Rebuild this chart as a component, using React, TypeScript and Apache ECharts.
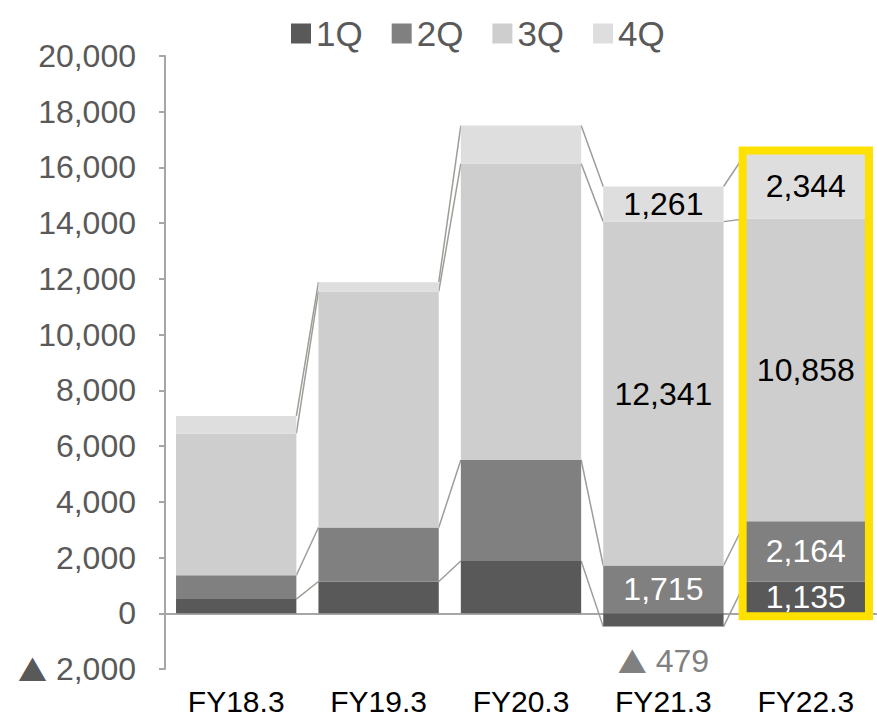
import React, { useEffect, useRef } from "react";
import * as echarts from "echarts";

const categories = ["FY18.3", "FY19.3", "FY20.3", "FY21.3", "FY22.3"];
const seriesNames = ["1Q", "2Q", "3Q", "4Q"];
const q1 = [510, 1141, 1878, -479, 1135];
const q2 = [855, 1936, 3623, 1715, 2164];
const q3 = [5088, 8474, 10638, 12341, 10858];
const q4 = [631, 331, 1365, 1261, 2344];
const quarters = [q1, q2, q3, q4];
const colors = ["#595959", "#808080", "#CECECE", "#DEDEDE"];
const labelColors = ["#FFFFFF", "#FFFFFF", "#000000", "#000000"];
const labeledIndices = [3, 4];
const highlightIndex = 4;
const yMin = -2000;
const yMax = 20000;
const yInterval = 2000;

const GAP = 0.155;
const FONT = "'Liberation Sans', Arial, sans-serif";
const TRI_FONT = "'Noto Sans CJK JP', sans-serif";

const fmt = (v: number) =>
  v < 0 ? "{t|▲} " + Math.abs(v).toLocaleString("en-US") : v.toLocaleString("en-US");

const levels = (i: number) => {
  let pos = 0;
  let neg = 0;
  const out: number[] = [];
  for (const arr of quarters) {
    const v = arr[i];
    if (v >= 0) {
      pos += v;
      out.push(pos);
    } else {
      neg += v;
      out.push(neg);
    }
  }
  return out;
};

const totalPos = (i: number) => quarters.reduce((s, arr) => s + (arr[i] > 0 ? arr[i] : 0), 0);

export default function App() {
  const ref = useRef<HTMLDivElement>(null);
  useEffect(() => {
    if (!ref.current) return;
    const chart = echarts.init(ref.current, null, { renderer: "svg" });

    const barSeries = quarters.map((arr, k) => ({
      name: seriesNames[k],
      type: "bar",
      stack: "total",
      barCategoryGap: GAP * 100 + "%",
      z: 2,
      itemStyle: { color: colors[k] },
      data: arr.map((v, i) => {
        if (!labeledIndices.includes(i)) return { value: v };
        if (v < 0) {
          return {
            value: v,
            label: {
              show: true,
              position: "bottom",
              distance: 18,
              color: "#808080",
              fontSize: 32,
              fontFamily: FONT,
              formatter: () => fmt(v),
              rich: { t: { fontFamily: TRI_FONT, fontSize: 29, color: "#808080" } },
            },
          };
        }
        return {
          value: v,
          label: {
            show: true,
            position: "inside",
            color: labelColors[k],
            fontSize: 32,
            fontFamily: FONT,
            formatter: () => fmt(v),
          },
        };
      }),
      ...(k === 0
        ? {
            markLine: {
              silent: true,
              symbol: ["none", "none"],
              label: { show: false },
              lineStyle: { color: "#A6A6A6", width: 2, type: "solid" },
              data: [{ yAxis: 0 }],
              z: 1,
            },
          }
        : {}),
    }));

    const connectorSeries = {
      type: "custom",
      name: "connectors",
      z: 1,
      silent: true,
      data: categories.slice(0, -1).map((_, i) => [i, 0]),
      renderItem: (params: any, api: any) => {
        const i = api.value(0);
        const band = api.size([1, 0])[0];
        const half = (band * (1 - GAP)) / 2;
        const a = levels(i);
        const b = levels(i + 1);
        return {
          type: "group",
          children: a.map((va, k) => {
            const p1 = api.coord([i, va]);
            const p2 = api.coord([i + 1, b[k]]);
            return {
              type: "line",
              shape: { x1: p1[0] + half, y1: p1[1], x2: p2[0] - half, y2: p2[1] },
              style: { stroke: "#9E9E98", lineWidth: 1.5 },
            };
          }),
        };
      },
    };

    const highlightSeries = {
      type: "custom",
      name: "highlight",
      z: 5,
      silent: true,
      data: [[highlightIndex, totalPos(highlightIndex)]],
      renderItem: (params: any, api: any) => {
        const i = api.value(0);
        const band = api.size([1, 0])[0];
        const half = (band * (1 - GAP)) / 2;
        const top = api.coord([i, api.value(1)]);
        const bottom = api.coord([i, 0]);
        return {
          type: "rect",
          shape: {
            x: top[0] - half - 3,
            y: top[1] - 3,
            width: 2 * half + 6,
            height: bottom[1] - top[1] + 6,
          },
          style: { fill: "none", stroke: "#FFE100", lineWidth: 8 },
        };
      },
    };

    chart.setOption({
      animation: false,
      color: colors,
      textStyle: { fontFamily: FONT },
      legend: {
        data: seriesNames,
        left: 286,
        top: 11,
        icon: "rect",
        itemWidth: 20,
        itemHeight: 20,
        itemGap: 29,
        textStyle: { fontSize: 35, color: "#595959", fontFamily: FONT },
      },
      grid: { left: 165, right: -4, top: 56, bottom: 44 },
      xAxis: {
        type: "category",
        data: categories,
        axisLine: { show: false },
        axisTick: { show: false },
        axisLabel: { color: "#000000", fontSize: 30, fontFamily: FONT, margin: 17 },
      },
      yAxis: {
        type: "value",
        min: yMin,
        max: yMax,
        interval: yInterval,
        splitLine: { show: false },
        axisLine: { show: true, lineStyle: { color: "#A6A6A6", width: 2 } },
        axisTick: { show: true, length: 6, lineStyle: { color: "#A6A6A6", width: 2 } },
        axisLabel: {
          color: "#595959",
          fontSize: 32,
          fontFamily: FONT,
          margin: 29,
          formatter: (v: number) => fmt(v),
          rich: { t: { fontFamily: TRI_FONT, fontSize: 29, color: "#595959" } },
        },
      },
      series: [...barSeries, connectorSeries, highlightSeries],
    });
    return () => chart.dispose();
  }, []);
  return (
    <div
      ref={ref}
      style={{ position: "fixed", left: 0, top: 0, width: 877, height: 716, background: "#fff" }}
    />
  );
}
